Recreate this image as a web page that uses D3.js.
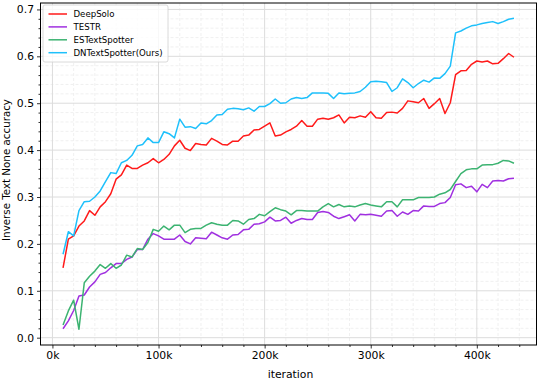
<!DOCTYPE html>
<html>
<head>
<meta charset="utf-8">
<script src="https://cdn.jsdelivr.net/npm/d3@7"></script>
<style>
  body { margin: 0; background: #fff; }
  svg { display: block; font-family: "DejaVu Sans", sans-serif; }
</style>
</head>
<body>
<div class="center"></div>
<script>
// iteration (in k), one point every 5k
var iters = [10,15,20,25,30,35,40,45,50,55,60,65,70,75,80,85,90,95,100,105,
  110,115,120,125,130,135,140,145,150,155,160,165,170,175,180,185,190,195,200,205,
  210,215,220,225,230,235,240,245,250,255,260,265,270,275,280,285,290,295,300,305,
  310,315,320,325,330,335,340,345,350,355,360,365,370,375,380,385,390,395,400,405,
  410,415,420,425,430,435];

var deepSolo = [0.149,0.21,0.217,0.238,0.249,0.271,0.261,0.279,0.29,0.307,
  0.338,0.347,0.368,0.361,0.361,0.368,0.373,0.382,0.373,0.38,
  0.391,0.409,0.421,0.404,0.399,0.414,0.412,0.411,0.425,0.419,
  0.412,0.411,0.419,0.419,0.43,0.432,0.443,0.444,0.451,0.458,
  0.43,0.432,0.439,0.444,0.451,0.463,0.451,0.451,0.466,0.468,
  0.466,0.469,0.475,0.458,0.47,0.469,0.473,0.47,0.482,0.469,
  0.468,0.48,0.481,0.479,0.489,0.505,0.503,0.501,0.51,0.489,
  0.499,0.51,0.478,0.501,0.561,0.569,0.57,0.583,0.59,0.588,
  0.59,0.584,0.585,0.595,0.606,0.598];

var testr = [0.019,0.036,0.058,0.089,0.091,0.108,0.119,0.135,0.139,0.149,
  0.158,0.158,0.167,0.172,0.188,0.188,0.21,0.222,0.217,0.21,
  0.21,0.21,0.219,0.205,0.2,0.213,0.212,0.211,0.225,0.219,
  0.213,0.21,0.219,0.22,0.23,0.231,0.242,0.243,0.247,0.257,
  0.249,0.25,0.257,0.244,0.25,0.254,0.252,0.252,0.267,0.269,
  0.267,0.259,0.254,0.258,0.262,0.249,0.263,0.262,0.263,0.261,
  0.259,0.27,0.271,0.259,0.268,0.263,0.271,0.27,0.281,0.28,
  0.28,0.286,0.288,0.299,0.326,0.328,0.32,0.323,0.311,0.327,
  0.32,0.334,0.335,0.334,0.339,0.34];

var esTextSpotter = [0.027,0.057,0.08,0.018,0.117,0.131,0.142,0.156,0.148,0.158,
  0.148,0.155,0.176,0.172,0.19,0.188,0.203,0.231,0.227,0.238,
  0.23,0.24,0.24,0.224,0.231,0.233,0.233,0.24,0.245,0.242,
  0.24,0.24,0.25,0.249,0.242,0.252,0.254,0.263,0.26,0.269,
  0.277,0.273,0.27,0.262,0.271,0.271,0.27,0.27,0.27,0.279,
  0.286,0.279,0.284,0.279,0.281,0.279,0.283,0.286,0.283,0.281,
  0.279,0.29,0.29,0.279,0.294,0.294,0.294,0.299,0.299,0.299,
  0.3,0.306,0.309,0.316,0.333,0.35,0.358,0.36,0.36,0.368,
  0.369,0.369,0.372,0.378,0.377,0.372];

var dnTextSpotter = [0.178,0.226,0.217,0.271,0.29,0.291,0.3,0.313,0.333,0.352,
  0.35,0.373,0.378,0.389,0.409,0.412,0.426,0.416,0.416,0.439,
  0.435,0.426,0.466,0.449,0.45,0.446,0.458,0.456,0.463,0.475,
  0.476,0.487,0.489,0.488,0.486,0.49,0.483,0.493,0.493,0.499,
  0.509,0.5,0.501,0.509,0.512,0.51,0.512,0.522,0.522,0.522,
  0.521,0.51,0.522,0.52,0.521,0.522,0.525,0.534,0.546,0.547,
  0.546,0.544,0.525,0.533,0.552,0.544,0.533,0.542,0.549,0.545,
  0.554,0.553,0.563,0.579,0.65,0.654,0.66,0.665,0.667,0.67,
  0.672,0.674,0.67,0.674,0.679,0.681];

var seriesNames = ["DeepSolo", "TESTR", "ESTextSpotter", "DNTextSpotter(Ours)"];
var seriesColors = ["#ff1a1a", "#a030e0", "#3cb371", "#1ec0fb"];
var seriesValues = [deepSolo, testr, esTextSpotter, dnTextSpotter];

var xTicks = [0, 100, 200, 300, 400];
var yTicks = [0, 0.1, 0.2, 0.3, 0.4, 0.5, 0.6, 0.7];

var margin = {top: 3, right: 1.5, bottom: 37, left: 40.5},
    width = 538 - margin.left - margin.right,
    height = 382 - margin.top - margin.bottom;

var x = d3.scaleLinear().domain([-11.25, 456.25]).range([0, width]);
var y = d3.scaleLinear().domain([-0.0156, 0.7137]).range([height, 0]);

var svg = d3.select(".center").append("svg")
    .attr("width", 538)
    .attr("height", 382)
  .append("g")
    .attr("transform", "translate(" + margin.left + "," + margin.top + ")");

// minor grid
var xMinor = d3.range(0, 457, 20).filter(function(d) { return d % 100 !== 0; });
var yMinor = d3.range(0, 0.71, 0.02).filter(function(d) { return Math.abs(d * 10 - Math.round(d * 10)) > 1e-6; });

svg.append("g").selectAll("line").data(xMinor).enter().append("line")
    .attr("x1", d => x(d)).attr("x2", d => x(d))
    .attr("y1", 0).attr("y2", height)
    .attr("stroke", "#ececec").attr("stroke-width", 0.8)
    .attr("stroke-dasharray", "3,2");
svg.append("g").selectAll("line").data(yMinor).enter().append("line")
    .attr("y1", d => y(d)).attr("y2", d => y(d))
    .attr("x1", 0).attr("x2", width)
    .attr("stroke", "#ececec").attr("stroke-width", 0.8)
    .attr("stroke-dasharray", "3,2");

// major grid
svg.append("g").selectAll("line").data(xTicks).enter().append("line")
    .attr("x1", d => x(d)).attr("x2", d => x(d))
    .attr("y1", 0).attr("y2", height)
    .attr("stroke", "#dcdcdc").attr("stroke-width", 1);
svg.append("g").selectAll("line").data(yTicks).enter().append("line")
    .attr("y1", d => y(d)).attr("y2", d => y(d))
    .attr("x1", 0).attr("x2", width)
    .attr("stroke", "#dcdcdc").attr("stroke-width", 1);

// lines
var line = d3.line()
    .x(function(d, i) { return x(iters[i]); })
    .y(function(d) { return y(d); });

seriesValues.forEach(function(vals, i) {
  svg.append("path")
      .datum(vals)
      .attr("fill", "none")
      .attr("stroke", seriesColors[i])
      .attr("stroke-width", 1.5)
      .attr("stroke-linejoin", "round")
      .attr("d", line);
});

// axes
var xAxis = svg.append("g")
    .attr("transform", "translate(0," + height + ")")
    .call(d3.axisBottom(x).tickValues(xTicks).tickFormat(d => d + "k").tickSize(3.5).tickPadding(3));
var xAxisMinor = svg.append("g")
    .attr("transform", "translate(0," + height + ")")
    .call(d3.axisBottom(x).tickValues(xMinor).tickFormat("").tickSize(2));
var yAxis = svg.append("g")
    .call(d3.axisLeft(y).tickValues(yTicks).tickFormat(d3.format(".1f")).tickSize(3.5).tickPadding(3));
var yAxisMinor = svg.append("g")
    .call(d3.axisLeft(y).tickValues(yMinor).tickFormat("").tickSize(2));

[xAxis, xAxisMinor, yAxis, yAxisMinor].forEach(function(a) {
  a.select(".domain").remove();
  a.selectAll("text").attr("font-size", "10.8px").attr("font-family", "DejaVu Sans").attr("fill", "#000");
  a.selectAll("line").attr("stroke", "#000").attr("stroke-width", 0.8);
});

// frame
svg.append("rect")
    .attr("x", 0).attr("y", 0)
    .attr("width", width).attr("height", height)
    .attr("fill", "none").attr("stroke", "#000").attr("stroke-width", 1);

// axis labels
svg.append("text")
    .attr("x", width / 2 + 2).attr("y", height + 33)
    .attr("text-anchor", "middle")
    .attr("font-size", "10.8px").attr("fill", "#000")
    .text("iteration");

svg.append("text")
    .attr("transform", "translate(" + (-31) + "," + (height / 2 - 4) + ") rotate(-90)")
    .attr("text-anchor", "middle")
    .attr("font-size", "10.3px").attr("fill", "#000")
    .text("Inverse Text None accuracy");

// legend
var legend = svg.append("g").attr("transform", "translate(2.5,2)");
legend.append("rect")
    .attr("width", 125).attr("height", 57).attr("rx", 2)
    .attr("fill", "#fff").attr("fill-opacity", 0.8)
    .attr("stroke", "#d0d0d0").attr("stroke-width", 0.8);

seriesNames.forEach(function(name, i) {
  var row = legend.append("g").attr("transform", "translate(0," + (9 + i * 12.9) + ")");
  row.append("line")
      .attr("x1", 5.5).attr("x2", 24)
      .attr("stroke", seriesColors[i]).attr("stroke-width", 1.5);
  row.append("text")
      .attr("x", 30.5).attr("y", 3)
      .attr("font-size", "8.6px").attr("fill", "#000")
      .text(name);
});
</script>
</body>
</html>
